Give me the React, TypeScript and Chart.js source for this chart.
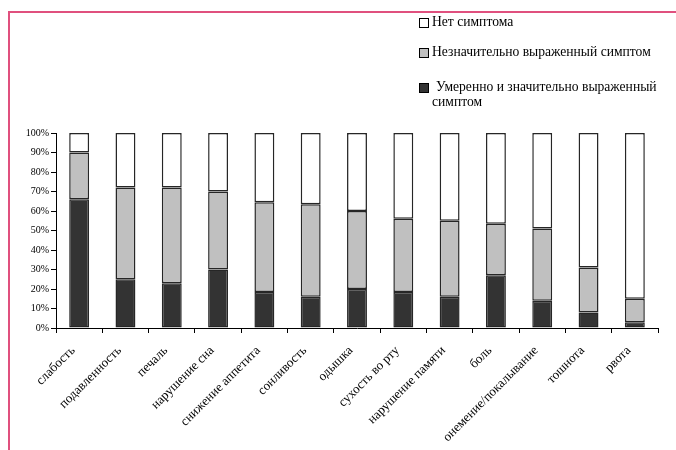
import React, { useEffect, useRef } from "react";
import { Chart, registerables } from "chart.js";

Chart.register(...registerables);

const categories = [
  "слабость",
  "подавленность",
  "печаль",
  "нарушение сна",
  "снижение аппетита",
  "сонливость",
  "одышка",
  "сухость во рту",
  "нарушение памяти",
  "боль",
  "онемение/покалывание",
  "тошнота",
  "рвота",
];

// Умеренно и значительно выраженный симптом (%)
const severe = [66, 25, 23, 30, 18.5, 16, 20, 18.5, 16, 27, 14, 8, 3];
// Незначительно выраженный симптом (%)
const mild = [24, 47, 49, 40, 46, 47.4, 40, 37.5, 39, 26.5, 37, 23, 12];
// Нет симптома (%)
const none = severe.map((s, i) => 100 - s - mild[i]);

const legendLabels = [
  "Нет симптома",
  "Незначительно выраженный симптом",
  "Умеренно и значительно выраженный симптом",
];

const yTicks = [0, 10, 20, 30, 40, 50, 60, 70, 80, 90, 100];

const FONT = "'Liberation Serif', 'Times New Roman', serif";

export default function App() {
  const ref = useRef<HTMLCanvasElement | null>(null);

  useEffect(() => {
    document.body.style.margin = "0";
    const canvas = ref.current;
    if (!canvas) return;
    const common = {
      borderColor: "#262626",
      borderWidth: 1.5,
      borderSkipped: false as const,
    };
    const chart = new Chart(canvas, {
      type: "bar",
      data: {
        labels: categories,
        datasets: [
          { label: legendLabels[2], data: severe, backgroundColor: "#333333", ...common },
          { label: legendLabels[1], data: mild, backgroundColor: "#c0c0c0", ...common },
          { label: legendLabels[0], data: none, backgroundColor: "#ffffff", ...common },
        ],
      },
      options: {
        animation: false,
        responsive: false,
        maintainAspectRatio: false,
        layout: { padding: { top: 133, right: 18, left: 0, bottom: 0 } },
        plugins: {
          legend: { display: false },
          tooltip: { enabled: false },
        },
        datasets: {
          bar: { barPercentage: 0.43, categoryPercentage: 1 },
        },
        scales: {
          x: {
            stacked: true,
            grid: {
              offset: true,
              drawOnChartArea: false,
              tickLength: 5,
              color: "#000",
            },
            border: { color: "#000", width: 1 },
            ticks: {
              autoSkip: false,
              maxRotation: 45,
              minRotation: 45,
              color: "#000",
              font: { family: FONT, size: 13 },
              padding: 10,
              labelOffset: -6,
            },
            afterFit: (s: any) => {
              s.height = 450 - 328;
            },
          },
          y: {
            stacked: true,
            min: 0,
            max: 100,
            afterBuildTicks: (s: any) => {
              s.ticks = yTicks.map((v) => ({ value: v }));
            },
            grid: {
              drawOnChartArea: false,
              tickLength: 5,
              color: "#000",
            },
            border: { color: "#000", width: 1 },
            ticks: {
              color: "#000",
              font: { family: FONT, size: 10 },
              padding: 2,
              callback: (v: any) => v + "%",
            },
            afterFit: (s: any) => {
              s.width = 56;
            },
          },
        },
      },
    });
    return () => chart.destroy();
  }, []);

  const swatch = (bg: string) => ({
    display: "inline-block",
    width: 8,
    height: 8,
    border: "1px solid #000",
    background: bg,
    marginRight: 3,
    verticalAlign: "middle",
  });

  return (
    <div style={{ position: "relative", width: 676, height: 450, overflow: "hidden", background: "#fff" }}>
      <canvas ref={ref} width={676} height={450} style={{ position: "absolute", left: 0, top: 0 }} />
      <div
        style={{
          position: "absolute",
          left: 8,
          top: 11,
          width: 700,
          height: 500,
          borderLeft: "2px solid #e0507e",
          borderTop: "2px solid #e0507e",
          pointerEvents: "none",
        }}
      />
      <div
        style={{
          position: "absolute",
          left: 419,
          top: 14,
          width: 256,
          fontFamily: FONT,
          fontSize: 13.6,
          color: "#000",
          lineHeight: "15px",
          whiteSpace: "nowrap",
        }}
      >
        <div style={{ height: 16 }}>
          <span style={swatch("#ffffff")} />
          {legendLabels[0]}
        </div>
        <div style={{ marginTop: 14, height: 16 }}>
          <span style={swatch("#c0c0c0")} />
          {legendLabels[1]}
        </div>
        <div style={{ marginTop: 19 }}>
          <span style={{ ...swatch("#333333"), marginRight: 7 }} />
          Умеренно и значительно выраженный
          <br />
          <span style={{ paddingLeft: 13 }}>симптом</span>
        </div>
      </div>
    </div>
  );
}
